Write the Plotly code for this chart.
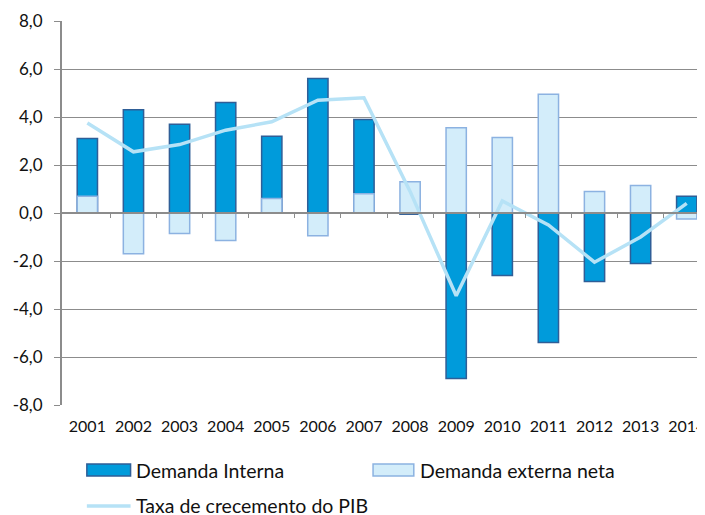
import plotly.graph_objects as go

# Data
years = ['2001', '2002', '2003', '2004', '2005', '2006', '2007',
         '2008', '2009', '2010', '2011', '2012', '2013', '2014']
demanda_interna = [3.1, 4.3, 3.7, 4.6, 3.2, 5.6, 3.9, -0.05, -6.9, -2.6, -5.4, -2.85, -2.1, 0.7]
demanda_externa = [0.7, -1.7, -0.85, -1.15, 0.6, -0.95, 0.8, 1.3, 3.55, 3.15, 4.95, 0.9, 1.15, -0.25]
taxa_pib = [3.75, 2.55, 2.85, 3.45, 3.8, 4.7, 4.8, 0.9, -3.45, 0.5, -0.5, -2.05, -1.0, 0.4]
names = ['Demanda Interna', 'Demanda externa neta', 'Taxa de crecemento do PIB']
y_ticks = [-8, -6, -4, -2, 0, 2, 4, 6, 8]
y_tick_labels = ['-8,0', '-6,0', '-4,0', '-2,0', '0,0', '2,0', '4,0', '6,0', '8,0']

# colours
DARK = '#009BDB'
DARK_EDGE = '#2F5E97'
LIGHT = '#D3EDFA'
LIGHT_EDGE = '#8CB2E1'
LINE = '#B6E2F6'
GRID = '#8C8C8C'
FONT = 'Lato, Open Sans, sans-serif'

# the page body has an 8px default margin, so the figure starts at (8, 8)
OFF = 8
W, H = 705 - OFF, 515 - OFF
ML, MR, MT, MB = 62 - OFF, 0, 21 - OFF, 110

fig = go.Figure()
fig.add_trace(go.Bar(x=years, y=demanda_interna, name=names[0], width=0.44,
                     marker=dict(color=DARK, line=dict(color=DARK_EDGE, width=1.5))))
fig.add_trace(go.Bar(x=years, y=demanda_externa, name=names[1], width=0.44,
                     marker=dict(color=LIGHT, line=dict(color=LIGHT_EDGE, width=1.5))))
fig.add_trace(go.Scatter(x=years, y=taxa_pib, name=names[2], mode='lines',
                         line=dict(color=LINE, width=3.5)))
# dummy trace so the zero-crossing axis gets drawn
fig.add_trace(go.Scatter(x=[0], y=[0], xaxis='x2', mode='markers',
                         marker=dict(opacity=0), hoverinfo='skip', showlegend=False))

# manual legend (screen pixel -> paper coords)
pw, ph = W - ML - MR, H - MT - MB
def px(x):
    return (x - OFF - ML) / pw
def py(y):
    return (H - MB - (y - OFF)) / ph

shapes = [
    dict(type='rect', xref='paper', yref='paper', x0=px(87), x1=px(131), y0=py(476), y1=py(464),
         fillcolor=DARK, line=dict(color=DARK_EDGE, width=1.5)),
    dict(type='rect', xref='paper', yref='paper', x0=px(375), x1=px(416), y0=py(476), y1=py(464),
         fillcolor=LIGHT, line=dict(color=LIGHT_EDGE, width=1.5)),
    dict(type='line', xref='paper', yref='paper', x0=px(87), x1=px(131), y0=py(506), y1=py(506),
         line=dict(color=LINE, width=3.5)),
]
legend_pos = [(134, 470), (420, 470), (134, 505)]
annotations = [dict(text=n, xref='paper', yref='paper', x=px(lx), y=py(ly), xanchor='left',
                    yanchor='middle', showarrow=False, font=dict(size=19.5, color='#111'))
               for n, (lx, ly) in zip(names, legend_pos)]

fig.update_layout(
    width=W, height=H,
    margin=dict(l=ML, r=MR, t=MT, b=MB),
    barmode='overlay',
    showlegend=False,
    plot_bgcolor='white', paper_bgcolor='white',
    font=dict(family=FONT, size=16, color='#111'),
    shapes=shapes,
    annotations=annotations,
    xaxis=dict(type='category', range=[-0.55, 13.31], showgrid=False, showline=False,
               ticks='', tickfont=dict(size=16), ticklabelstandoff=10),
    xaxis2=dict(overlaying='x', anchor='free', position=0.5, range=[-0.55, 13.31],
                showgrid=False, zeroline=False, showline=True, linecolor=GRID, linewidth=2,
                tickvals=[i + 0.5 for i in range(13)], ticks='outside', ticklen=4,
                tickcolor=GRID, tickwidth=1, showticklabels=False),
    yaxis=dict(range=[-8, 8], tickvals=y_ticks, ticktext=y_tick_labels, showgrid=True,
               gridcolor=GRID, gridwidth=1, zeroline=False, showline=True, linecolor=GRID,
               linewidth=2, ticks='outside', ticklen=6, tickcolor=GRID,
               ticklabelstandoff=8, tickfont=dict(size=17)),
)

fig.write_html('out.html')
